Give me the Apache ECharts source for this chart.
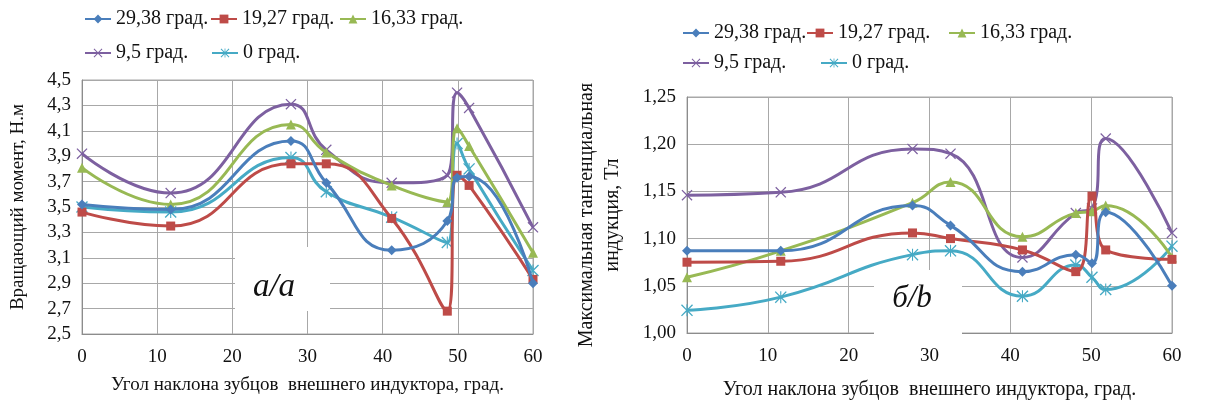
<!DOCTYPE html>
<html>
<head>
<meta charset="utf-8">
<script src="https://cdn.jsdelivr.net/npm/echarts@6/dist/echarts.min.js"></script>
<style>
html,body{margin:0;padding:0;background:#fff;}
#c{width:1205px;height:405px;}
</style>
</head>
<body>
<div id="c"></div>
<script>
// ---- data ----
const seriesNames = ['29,38 град.', '19,27 град.', '16,33 град.', '9,5 град.', '0 град.'];

// chart a: torque
const xA = [0, 11.8, 27.8, 32.5, 41.2, 48.6, 49.9, 51.5, 60];
const a29 = [3.52, 3.48, 4.02, 3.69, 3.16, 3.39, 3.73, 3.74, 2.90];
const a19 = [3.46, 3.35, 3.84, 3.84, 3.41, 2.68, 3.75, 3.67, 2.93];
const a16 = [3.81, 3.52, 4.15, 3.93, 3.67, 3.54, 4.12, 3.98, 3.14];
const a9  = [3.92, 3.61, 4.31, 3.95, 3.69, 3.75, 4.40, 4.28, 3.34];
const a0  = [3.50, 3.46, 3.89, 3.62, 3.42, 3.22, 4.00, 3.80, 3.00];

// chart b: max tangential induction
const xB = [0, 11.6, 27.9, 32.6, 41.5, 48.1, 50.1, 51.8, 60];
const b29 = [1.087, 1.087, 1.135, 1.114, 1.065, 1.083, 1.074, 1.128, 1.050];
const b19 = [1.075, 1.076, 1.106, 1.100, 1.088, 1.065, 1.145, 1.088, 1.078];
const b16 = [1.059, 1.087, 1.138, 1.160, 1.102, 1.127, 1.129, 1.135, 1.080];
const b9  = [1.146, 1.149, 1.195, 1.190, 1.080, 1.127, 1.132, 1.206, 1.106];
const b0  = [1.024, 1.038, 1.083, 1.087, 1.039, 1.072, 1.059, 1.046, 1.092];

const xTicks = {min: 0, max: 60, interval: 10};
const yTicksA = {min: 2.5, max: 4.5, interval: 0.2};
const yTicksB = {min: 1.0, max: 1.25, interval: 0.05};

// ---- styles ----
const FONT = 'Liberation Serif';
const colors = ['#4a7ebb', '#be4b48', '#98b954', '#7d60a0', '#46aac5'];
const X_SHAPE = 'M0,1.6L1.6,0L10,8.4L18.4,0L20,1.6L11.6,10L20,18.4L18.4,20L10,11.6L1.6,20L0,18.4L8.4,10Z';
const symbols = ['diamond', 'rect', 'triangle', 'path://' + X_SHAPE,
  'path://' + X_SHAPE + 'M9.1,0L10.9,0L10.9,20L9.1,20Z'];
const symbolSizes = [10, 9, 10, 11, 12];

function mkSeries(xs, lists, gi) {
  return lists.map((vals, k) => ({
    name: seriesNames[k],
    type: 'line',
    xAxisIndex: gi, yAxisIndex: gi,
    smooth: 0.5,
    data: xs.map((x, i) => [x, vals[i]]),
    symbol: symbols[k],
    symbolSize: symbolSizes[k],
    showAllSymbol: true,
    lineStyle: {color: colors[k], width: 3},
    itemStyle: {color: colors[k]},
    z: 3 + (4 - k)
  }));
}

function mkLegends(pos) {
  return pos.map(p => ({
    data: [seriesNames[p.k]],
    left: p.l, top: p.t,
    itemWidth: 26, itemHeight: 11,
    padding: 0,
    textStyle: {fontFamily: FONT, fontSize: 20, color: '#111'}
  }));
}

const legends = mkLegends([
  {k: 0, l: 84, t: 9}, {k: 1, l: 210, t: 9}, {k: 2, l: 339, t: 9},
  {k: 3, l: 84, t: 43}, {k: 4, l: 211, t: 43},
  {k: 0, l: 682, t: 23}, {k: 1, l: 806, t: 23}, {k: 2, l: 948, t: 23},
  {k: 3, l: 682, t: 53}, {k: 4, l: 820, t: 53}
]);

const gridLine = {show: true, lineStyle: {color: '#a8a8a8', width: 1}};
const axisLine = {show: true, lineStyle: {color: '#8c8c8c', width: 1}};
const labelStyle = {fontFamily: FONT, fontSize: 19, color: '#111'};
const comma = d => v => v.toFixed(d).replace('.', ',');

const option = {
  animation: false,
  backgroundColor: '#fff',
  legend: legends,
  grid: [
    {left: 82, top: 80, width: 451, height: 254, show: true, borderColor: '#a8a8a8', borderWidth: 1},
    {left: 687, top: 97, width: 485, height: 240, show: true, borderColor: '#a8a8a8', borderWidth: 1}
  ],
  xAxis: [0, 1].map(g => ({
    type: 'value', gridIndex: g,
    min: xTicks.min, max: xTicks.max, interval: xTicks.interval,
    axisLine: axisLine, axisTick: {show: false},
    splitLine: gridLine,
    axisLabel: Object.assign({margin: 14}, labelStyle),
    name: 'Угол наклона зубцов  внешнего индуктора, град.',
    nameLocation: 'middle',
    nameGap: g === 0 ? 42 : 47,
    nameTextStyle: {fontFamily: FONT, fontSize: g === 0 ? 19 : 20, color: '#111'}
  })),
  yAxis: [
    {
      type: 'value', gridIndex: 0,
      min: yTicksA.min, max: yTicksA.max, interval: yTicksA.interval,
      axisLine: axisLine, axisTick: {show: false},
      splitLine: gridLine,
      axisLabel: Object.assign({margin: 11, formatter: comma(1)}, labelStyle),
      name: 'Вращающий момент, Н.м',
      nameLocation: 'middle', nameRotate: 90, nameGap: 54,
      nameTextStyle: {fontFamily: FONT, fontSize: 19, color: '#111'}
    },
    {
      type: 'value', gridIndex: 1,
      min: yTicksB.min, max: yTicksB.max, interval: yTicksB.interval,
      axisLine: axisLine, axisTick: {show: false},
      splitLine: gridLine,
      axisLabel: Object.assign({margin: 11, formatter: comma(2)}, labelStyle),
      name: 'Максимальная тангенциальная\nиндукция, Тл',
      nameLocation: 'middle', nameRotate: 90, nameGap: 61,
      nameTextStyle: {fontFamily: FONT, fontSize: 20, color: '#111', lineHeight: 26}
    }
  ],
  graphic: [
    {type: 'rect', z: 1, shape: {x: 235, y: 247, width: 95, height: 64}, style: {fill: '#fff'}},
    {type: 'text', z: 2, x: 274, y: 287, style: {text: 'а/a', fontFamily: FONT, fontStyle: 'italic', fontSize: 33, fill: '#111', align: 'center', verticalAlign: 'middle'}},
    {type: 'rect', z: 1, shape: {x: 874, y: 270, width: 88, height: 66}, style: {fill: '#fff'}},
    {type: 'text', z: 2, x: 912, y: 299, style: {text: 'б/b', fontFamily: FONT, fontStyle: 'italic', fontSize: 31, fill: '#111', align: 'center', verticalAlign: 'middle'}}
  ],
  series: [].concat(
    mkSeries(xA, [a29, a19, a16, a9, a0], 0),
    mkSeries(xB, [b29, b19, b16, b9, b0], 1)
  )
};

const chart = echarts.init(document.getElementById('c'), null, {renderer: 'canvas'});
chart.setOption(option);
</script>
</body>
</html>
